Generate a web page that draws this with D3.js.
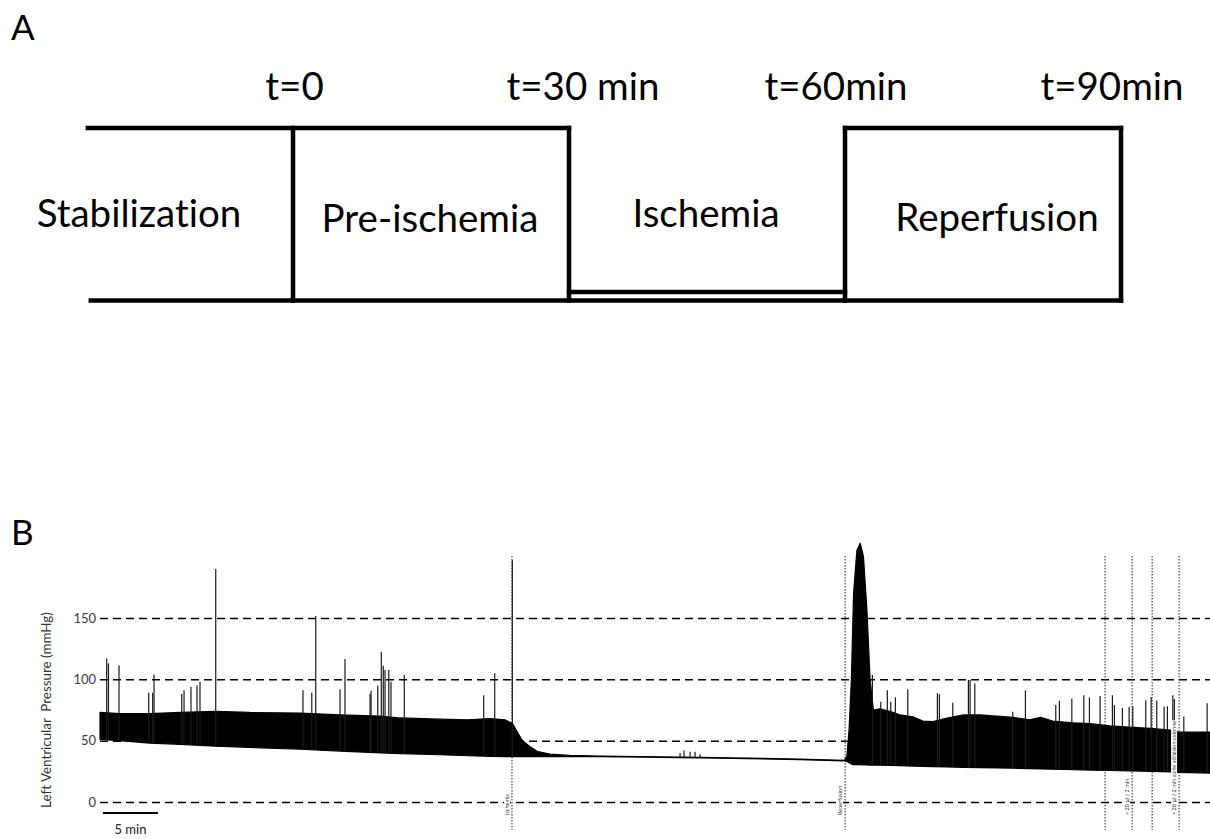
<!DOCTYPE html>
<html><head><meta charset="utf-8">
<script src="https://cdn.jsdelivr.net/npm/d3@7"></script>
<style>body{margin:0;background:#fff}svg{display:block}text{font-variant-ligatures:none;font-feature-settings:"liga" 0,"clig" 0}</style>
</head><body><svg id="c" width="1210" height="839"></svg>
<script>
// ---------- Panel A data ----------
const phaseLabels = ["Stabilization", "Pre-ischemia", "Ischemia", "Reperfusion"];
const phaseStart = [-22.3, 0, 30, 60];
const phaseEnd = [0, 30, 60, 90];
const timeMarks = [0, 30, 60, 90];
const timeLabels = ["t=0", "t=30 min", "t=60min", "t=90min"];

// ---------- Panel B data (time in minutes from start of trace, pressure in mmHg) ----------
const yTicks = [0, 50, 100, 150];
const envTime = [0, 1.8, 4.5, 7.3, 10.5, 13.6, 18.2, 21.8, 25.5, 27.3, 30.9, 33.4, 35.5, 36.8, 37.5, 38.0, 38.4, 39.1, 39.8, 40.9, 42.7, 45.5, 54.5, 63.6, 67.7, 67.9, 68.1, 68.3, 68.5, 68.8, 69.1, 69.4, 69.7, 70.0, 70.3, 70.9, 71.8, 72.7, 73.9, 74.8, 75.7, 77.0, 78.5, 80.0, 81.5, 83.0, 84.5, 85.5, 86.6, 88.5, 90.0, 91.8, 93.6, 95.5, 97.3, 97.8, 98.0, 100.9];
const envUpper = [73, 72, 72, 73, 74, 73, 72.5, 71, 70, 68.5, 67.5, 67, 68, 67, 64, 56, 50, 45, 41, 39, 38, 37.5, 36.5, 35, 34, 38, 60, 100, 170, 205, 211, 200, 159, 100, 75, 76, 74, 71, 69.5, 66, 65.5, 68.5, 71, 71, 70, 69, 67, 69, 66, 64.6, 64, 62, 61, 60, 58.7, 58, 57, 57];
const envLower = [51, 50, 48, 47, 45.5, 44.5, 43, 41.5, 40, 39.5, 38.5, 37.7, 37.2, 37, 37, 37, 37, 37, 37, 37, 37, 37, 36, 34.5, 33.5, 33, 32, 31, 30.5, 30.5, 30.5, 30.3, 30.2, 30, 30, 30, 29.8, 29.6, 29.3, 29, 28.8, 28.6, 28.3, 28, 27.8, 27.5, 27.2, 27, 26.8, 26.3, 26, 25.7, 25.4, 25, 24.5, 24.3, 24.2, 23.6];
const spikeTime = [0.61, 0.77, 1.73, 4.43, 4.79, 4.91, 7.43, 7.64, 8.27, 8.82, 9.09, 10.52, 18.45, 19.25, 19.61, 21.82, 22.27, 24.55, 24.64, 25.25, 25.57, 25.75, 25.91, 26.25, 26.45, 27.66, 34.88, 35.88, 37.48, 52.73, 53.09, 53.64, 54.09, 54.55, 70.21, 70.97, 71.57, 71.88, 72.3, 73.43, 76.12, 76.3, 77.52, 78.94, 79.09, 79.52, 82.97, 84.12, 86.88, 87.21, 88.34, 89.43, 89.94, 90.91, 92.03, 92.21, 92.94, 93.55, 93.88, 95.06, 95.55, 96.06, 96.73, 97.03, 97.52, 97.66, 98.52, 100.64];
const spikePeak = [117, 113, 111.5, 89, 89, 104, 88, 91, 94, 95, 98, 190, 91, 89, 151.6, 92, 116.5, 88, 90.7, 95, 122.5, 111, 107.6, 107.6, 98, 103.5, 87, 105, 197, 40, 42, 41, 41, 39, 103.5, 81.8, 91, 81.8, 85.4, 92, 88.6, 87.8, 81, 99.5, 99.5, 96.7, 73.5, 91, 79, 82.6, 84.4, 87, 85.3, 86.5, 87, 79, 76.6, 77.7, 78, 83, 85.6, 82.6, 77.7, 78, 87, 84, 69.6, 80.6];
const markerTime = [37.45, 67.73, 91.36, 93.82, 95.64, 98.09];
const markerText = ["Ischemia", "Reperfusion", "", "= 20 µl / 2 min", "", "= 20 µl / 2 min après adhésion colonne"];
const scaleBarMinutes = 5;

// ---------- drawing ----------
const svg = d3.select("#c");
const FONT = "Lato, 'Open Sans', sans-serif";

function fit(sel, w) {
  const L = sel.node().getComputedTextLength();
  const base = parseFloat(sel.attr("font-size"));
  if (L > 0) sel.attr("font-size", base * w / L);
}

// Panel letters
svg.append("text").attr("x", 11).attr("y", 40).attr("font-family", FONT).attr("font-size", 35).text("A");
svg.append("text").attr("x", 11).attr("y", 545).attr("font-family", FONT).attr("font-size", 35).text("B");

// ---------- Panel A ----------
const xA = d3.scaleLinear().domain([0, 90]).range([293, 1121]);
const topY = 128, botY = 300.5, ischY = 292;
const gA = svg.append("g").attr("stroke", "#000").attr("stroke-width", 4.5).attr("stroke-linecap", "square").attr("fill", "none");
gA.append("line").attr("x1", xA(phaseStart[0])).attr("x2", xA(phaseEnd[1])).attr("y1", topY).attr("y2", topY);
gA.append("line").attr("x1", xA(phaseStart[3])).attr("x2", xA(phaseEnd[3])).attr("y1", topY).attr("y2", topY);
gA.append("line").attr("x1", xA(phaseStart[0]) + 3).attr("x2", xA(phaseEnd[3])).attr("y1", botY).attr("y2", botY);
gA.append("line").attr("x1", xA(phaseStart[2])).attr("x2", xA(phaseEnd[2])).attr("y1", ischY).attr("y2", ischY);
timeMarks.forEach(t => {
  gA.append("line").attr("x1", xA(t)).attr("x2", xA(t)).attr("y1", topY).attr("y2", botY);
});

const AFS = 38.5;
const timeCx = [294.5, 583, 836, 1112];
timeLabels.forEach((s, i) => {
  svg.append("text").attr("x", timeCx[i]).attr("y", 100).attr("text-anchor", "middle")
    .attr("font-family", FONT).attr("font-size", AFS).attr("fill", "#000").text(s);
});
const phaseCx = [139, 430, 706, 997], phaseBase = [227, 232, 227, 231];
phaseLabels.forEach((s, i) => {
  svg.append("text").attr("x", phaseCx[i]).attr("y", phaseBase[i]).attr("text-anchor", "middle")
    .attr("font-family", FONT).attr("font-size", AFS).attr("fill", "#000").text(s);
});

// ---------- Panel B ----------
const x = d3.scaleLinear().domain([0, 100.9]).range([100, 1210]);
const y = d3.scaleLinear().domain([0, 150]).range([802, 618]);

const ax = svg.append("g").attr("transform", "translate(100,0)")
  .call(d3.axisLeft(y).tickValues(yTicks).tickSize(-1110).tickPadding(4));
ax.select(".domain").remove();
ax.selectAll(".tick line").attr("stroke", "#000").attr("stroke-width", 1.5).attr("stroke-dasharray", "8,5");
ax.selectAll(".tick text").attr("font-family", FONT).attr("font-size", 13).attr("fill", "#404040");

const yt = svg.append("text").attr("transform", "translate(51,710) rotate(-90)").attr("text-anchor", "middle")
  .attr("font-family", FONT).attr("font-size", 11.5).attr("fill", "#333").style("white-space", "pre")
  .text("Left Ventricular  Pressure (mmHg)");
fit(yt, 196);

markerTime.forEach(t => {
  svg.append("line").attr("x1", x(t)).attr("x2", x(t)).attr("y1", 556).attr("y2", 830)
    .attr("stroke", "#222").attr("stroke-width", 1).attr("stroke-dasharray", "1.5,1.5");
});

const idx = d3.range(envTime.length);
const area = d3.area().x(i => x(envTime[i])).y0(i => y(envLower[i])).y1(i => y(envUpper[i]));
svg.append("path").attr("d", area(idx)).attr("fill", "#000").attr("stroke", "#000").attr("stroke-width", 1.2).attr("stroke-linejoin", "round");

const lowerAt = t => {
  const j = Math.max(1, Math.min(envTime.length - 1, d3.bisectLeft(envTime, t)));
  const f = (t - envTime[j - 1]) / (envTime[j] - envTime[j - 1]);
  return envLower[j - 1] + f * (envLower[j] - envLower[j - 1]);
};
spikeTime.forEach((t, i) => {
  svg.append("line").attr("x1", x(t)).attr("x2", x(t)).attr("y1", y(lowerAt(t))).attr("y2", y(spikePeak[i]))
    .attr("stroke", "#1a1a1a").attr("stroke-width", 1.2);
});

markerTime.forEach((t, i) => {
  if (!markerText[i]) return;
  const g = svg.append("g").attr("transform", `translate(${x(t) - 3},815) rotate(-90)`);
  const tx = g.append("text").attr("x", 0).attr("y", 0).attr("font-family", FONT).attr("font-size", 5.5)
    .attr("fill", "#334").text(markerText[i]);
  const bb = tx.node().getBBox();
  g.insert("rect", "text").attr("x", bb.x - 0.5).attr("y", bb.y).attr("width", bb.width + 1).attr("height", bb.height)
    .attr("fill", "#fff");
});

const sb0 = 0.27;
svg.append("line").attr("x1", x(sb0)).attr("x2", x(sb0 + scaleBarMinutes)).attr("y1", 813).attr("y2", 813)
  .attr("stroke", "#000").attr("stroke-width", 2);
svg.append("text").attr("x", (x(sb0) + x(sb0 + scaleBarMinutes)) / 2).attr("y", 834).attr("text-anchor", "middle")
  .attr("font-family", FONT).attr("font-size", 13).attr("fill", "#222").text(scaleBarMinutes + " min");
</script></body></html>
